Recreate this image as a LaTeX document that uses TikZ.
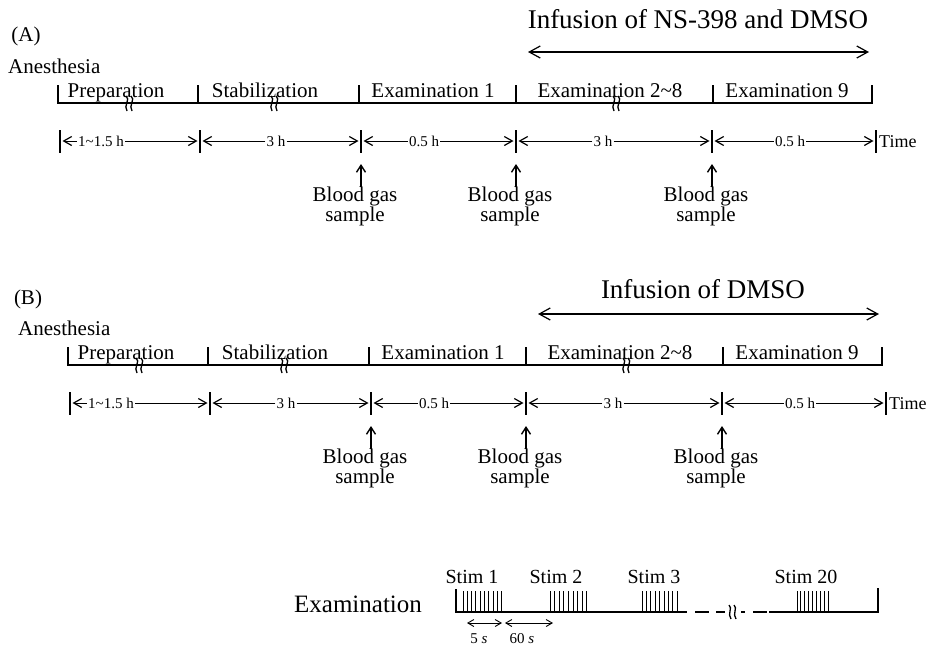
\documentclass[tikz,border=0pt]{standalone}
\usepackage{fontspec}
\setmainfont{Liberation Serif}
\usetikzlibrary{arrows.meta,calc}
\newcommand{\fsz}[1]{\fontsize{#1}{#1}\selectfont}
\tikzset{
  bar/.style={line width=2.6pt, line join=miter},
  wig/.style={line width=1.3pt},
  tickline/.style={line width=1.8pt},
  dim/.style={line width=0.9pt, -{Straight Barb[length=8pt,width=9pt,line width=1.2pt]}, shorten >=2.5pt},
  dimboth/.style={line width=0.9pt, {Straight Barb[length=6pt,width=7pt]}-{Straight Barb[length=6pt,width=7pt]}},
  infarrow/.style={line width=1.2pt, {Straight Barb[length=11pt,width=12pt,line width=1.2pt]}-{Straight Barb[length=11pt,width=12pt,line width=1.2pt]}},
  uparrow/.style={line width=1.7pt, -{Straight Barb[length=7pt,width=9pt,line width=1.4pt]}},
  phlbl/.style={font=\fsz{21}, inner sep=0pt, anchor=base},
  tlbl/.style={font=\fsz{15}, inner sep=1pt},
  bgl/.style={font=\fontsize{21}{18}\selectfont, align=center, inner sep=0pt},
  big/.style={font=\fsz{27}, inner sep=0pt, anchor=base},
  stl/.style={font=\fsz{20}, inner sep=0pt, anchor=base},
  pulse/.style={line width=0.9pt},
}
\newcommand{\panel}{%
  \coordinate (il) at (528,52); \coordinate (ir) at (869,52);
  \draw[infarrow] (il) -- (ir);
  \node[phlbl, anchor=base west] (anes) at (8,73) {Anesthesia};
  \foreach \n/\x in {0/58,1/198,2/359,3/516,4/713,5/872}{
    \coordinate (t\n) at (\x,85); \coordinate (b\n) at (\x,103);}
  \draw[bar] (t0) -- (b0) -- (b5) -- (t5);
  \foreach \n in {1,...,4} \draw[bar] (t\n) -- (b\n);
  \node[phlbl] (p1) at (116,97) {Preparation};
  \node[phlbl] (p2) at (265,97) {Stabilization};
  \node[phlbl] (p3) at (433,97) {Examination 1};
  \node[phlbl] (p4) at (610,97) {Examination 2\textasciitilde 8};
  \node[phlbl] (p5) at (787,97) {Examination 9};
  \foreach \x in {128,273,615}{
    \draw[wig] (\x-2,96) .. controls (\x+3,99) and (\x-5,106) .. (\x-1,111);
    \draw[wig] (\x+3,96) .. controls (\x+8,99) and (\x,106) .. (\x+4,111);}
  \foreach \n/\x in {0/60,1/200,2/361,3/516,4/712,5/876}{
    \coordinate (c\n) at (\x,141);
    \draw[tickline] (\x,130) -- (\x,153);}
  \node[font=\fsz{18}, inner sep=0pt, anchor=base west] (time) at (879,147) {Time};
  \node[tlbl] (d0) at (101,141) {1\textasciitilde 1.5 h};
  \node[tlbl] (d1) at (276,141) {3 h};
  \node[tlbl] (d2) at (424,141) {0.5 h};
  \node[tlbl] (d3) at (603,141) {3 h};
  \node[tlbl] (d4) at (790,141) {0.5 h};
  \draw[dim] (d0) -- (c0); \draw[dim] (d0) -- (c1);
  \draw[dim] (d1) -- (c1); \draw[dim] (d1) -- (c2);
  \draw[dim] (d2) -- (c2); \draw[dim] (d2) -- (c3);
  \draw[dim] (d3) -- (c3); \draw[dim] (d3) -- (c4);
  \draw[dim] (d4) -- (c4); \draw[dim] (d4) -- (c5);
  \foreach \n/\x in {1/361,2/516,3/712}{
    \coordinate (ut\n) at (\x,164);
    \node[bgl, anchor=north] (bg\n) at (\x-6,187) {Blood gas\\sample};
    \draw[uparrow] (bg\n.north -| ut\n) -- (ut\n);}
}
\begin{document}
\begin{tikzpicture}[x=1pt,y=-1pt]
\useasboundingbox (0,0) rectangle (929,646);
% panel A
\node[phlbl] (labA) at (26,41) {(A)};
\node[big] (infA) at (698,28) {Infusion of NS-398 and DMSO};
\begin{scope}[name prefix=A-]
\panel
\end{scope}
% panel B
\node[phlbl] (labB) at (28,304) {(B)};
\node[big] (infB) at (703,298) {Infusion of DMSO};
\begin{scope}[shift={(10,262)}, name prefix=B-]
\panel
\end{scope}
% examination stimulus train
\node[font=\fsz{25}, inner sep=0pt, anchor=base] (exam) at (358,612) {Examination};
\coordinate (e0t) at (456,589); \coordinate (e0) at (456,612);
\coordinate (e1) at (687,612);
\coordinate (e2) at (769,612); \coordinate (e3) at (878,612); \coordinate (e3t) at (878,588);
\draw[line width=2pt, line join=miter] (e0t) -- (e0) -- (e1);
\draw[line width=2pt, line join=miter] (e2) -- (e3) -- (e3t);
\draw[line width=2pt] (695,612) -- (709,612);
\draw[line width=2pt] (716,612) -- (725,612);
\draw[line width=2pt] (741,612) -- (745,612);
\draw[line width=2pt] (753,612) -- (767,612);
\draw[wig] (729,605) .. controls (733,608) and (727,614) .. (731,619);
\draw[wig] (734,605) .. controls (738,608) and (732,614) .. (736,619);
\foreach \k in {0,...,9} \draw[pulse] (463+\k*4.3,612) -- (463+\k*4.3,591);
\foreach \k in {0,...,8} \draw[pulse] (550+\k*4.6,612) -- (550+\k*4.6,591);
\foreach \k in {0,...,8} \draw[pulse] (642+\k*4.4,612) -- (642+\k*4.4,591);
\foreach \k in {0,...,8} \draw[pulse] (797+\k*3.9,612) -- (797+\k*3.9,591);
\node[stl] (s1) at (472,583) {Stim 1};
\node[stl] (s2) at (556,583) {Stim 2};
\node[stl] (s3) at (654,583) {Stim 3};
\node[stl] (s20) at (806,583) {Stim 20};
\coordinate (a5l) at (467,623); \coordinate (a5r) at (502,623);
\coordinate (a60l) at (505,623); \coordinate (a60r) at (553,623);
\draw[dimboth] (a5l) -- (a5r);
\draw[dimboth] (a60l) -- (a60r);
\node[font=\fsz{15}, inner sep=0pt] (l5) at (479,639) {5 \textit{s}};
\node[font=\fsz{15}, inner sep=0pt] (l60) at (522,639) {60 \textit{s}};
\end{tikzpicture}
\end{document}
